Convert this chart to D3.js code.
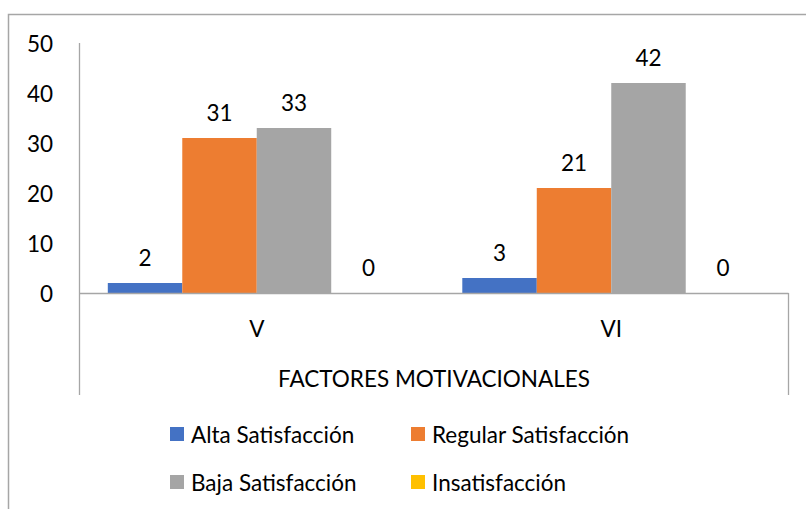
<!DOCTYPE html>
<meta charset="utf-8">
<html>
  <head>
    <title>Factores motivacionales</title>
    <script src="https://d3js.org/d3.v7.min.js"></script>
    <style>
      body { margin: 0; background: #fff; }
      text { font-family: Lato, "Open Sans", sans-serif; fill: #000; font-size: 22.5px; }
    </style>
  </head>
  <body>
    <div id="chart"></div>
    <script>
      // data
      var categories = ["V", "VI"];
      var seriesNames = ["Alta Satisfacción", "Regular Satisfacción", "Baja Satisfacción", "Insatisfacción"];
      var alta = [2, 3];
      var regular = [31, 21];
      var baja = [33, 42];
      var insat = [0, 0];
      var yTicks = [0, 10, 20, 30, 40, 50];
      var colors = ["#4472C4", "#ED7D31", "#A5A5A5", "#FFC000"];

      var seriesValues = [alta, regular, baja, insat];

      var width = 806, height = 509;
      var svg = d3.select("#chart").append("svg")
        .attr("width", width)
        .attr("height", height);

      // outer frame (only top and left visible)
      svg.append("path")
        .attr("d", "M8.5,509 V14.5 H806")
        .attr("fill", "none")
        .attr("stroke", "#a6a6a6")
        .attr("stroke-width", 1.5);

      var plotLeft = 79.5, plotRight = 788.5, plotTop = 43, plotBottom = 293, axisBottom = 395;

      var y = d3.scaleLinear().domain([0, 50]).range([plotBottom, plotTop]);
      var x0 = d3.scaleBand().domain(categories).range([plotLeft, plotRight]);
      var x1 = d3.scaleBand().domain(seriesNames).range([0, x0.bandwidth()])
        .paddingInner(0).paddingOuter(0.38);

      // y axis labels
      svg.append("g").selectAll("text")
        .data(yTicks)
        .enter().append("text")
        .attr("x", 53)
        .attr("y", function(d) { return y(d); })
        .attr("text-anchor", "end")
        .attr("dominant-baseline", "central")
        .text(function(d) { return d; });

      // bars
      var groups = svg.append("g").selectAll("g")
        .data(categories)
        .enter().append("g")
        .attr("transform", function(d) { return "translate(" + x0(d) + ",0)"; });

      groups.selectAll("rect")
        .data(function(d, i) {
          return seriesNames.map(function(s, j) { return {key: s, value: seriesValues[j][i], idx: j}; });
        })
        .enter().append("rect")
        .attr("x", function(d) { return x1(d.key); })
        .attr("y", function(d) { return y(d.value); })
        .attr("width", x1.bandwidth())
        .attr("height", function(d) { return plotBottom - y(d.value); })
        .attr("fill", function(d) { return colors[d.idx]; });

      groups.selectAll("text")
        .data(function(d, i) {
          return seriesNames.map(function(s, j) { return {key: s, value: seriesValues[j][i]}; });
        })
        .enter().append("text")
        .attr("x", function(d) { return x1(d.key) + x1.bandwidth() / 2; })
        .attr("y", function(d) { return y(d.value) - 26; })
        .attr("text-anchor", "middle")
        .attr("dominant-baseline", "central")
        .text(function(d) { return d.value; });

      // axis lines
      var axisColor = "#a6a6a6";
      svg.append("line")
        .attr("x1", plotLeft).attr("x2", plotLeft)
        .attr("y1", plotTop).attr("y2", axisBottom)
        .attr("stroke", axisColor).attr("stroke-width", 1.3);
      svg.append("line")
        .attr("x1", plotLeft).attr("x2", plotRight)
        .attr("y1", plotBottom + 0.5).attr("y2", plotBottom + 0.5)
        .attr("stroke", axisColor).attr("stroke-width", 1.3);
      svg.append("line")
        .attr("x1", plotRight).attr("x2", plotRight)
        .attr("y1", plotBottom).attr("y2", axisBottom)
        .attr("stroke", axisColor).attr("stroke-width", 1.3);

      // category labels
      svg.append("g").selectAll("text")
        .data(categories)
        .enter().append("text")
        .attr("x", function(d) { return x0(d) + x0.bandwidth() / 2; })
        .attr("y", 328)
        .attr("text-anchor", "middle")
        .attr("dominant-baseline", "central")
        .text(function(d) { return d; });

      svg.append("text")
        .attr("x", (plotLeft + plotRight) / 2)
        .attr("y", 378)
        .attr("text-anchor", "middle")
        .attr("dominant-baseline", "central")
        .text("FACTORES MOTIVACIONALES");

      // legend
      var legendPos = [[170, 434], [411, 434], [170, 482], [411, 482]];
      var legend = svg.append("g").selectAll("g")
        .data(seriesNames)
        .enter().append("g")
        .attr("transform", function(d, i) { return "translate(" + legendPos[i][0] + "," + legendPos[i][1] + ")"; });
      legend.append("rect")
        .attr("x", 0).attr("y", -7)
        .attr("width", 14).attr("height", 14)
        .attr("fill", function(d, i) { return colors[i]; });
      legend.append("text")
        .attr("x", 21)
        .attr("y", 0)
        .attr("dominant-baseline", "central")
        .text(function(d) { return d; });
    </script>
  </body>
</html>
